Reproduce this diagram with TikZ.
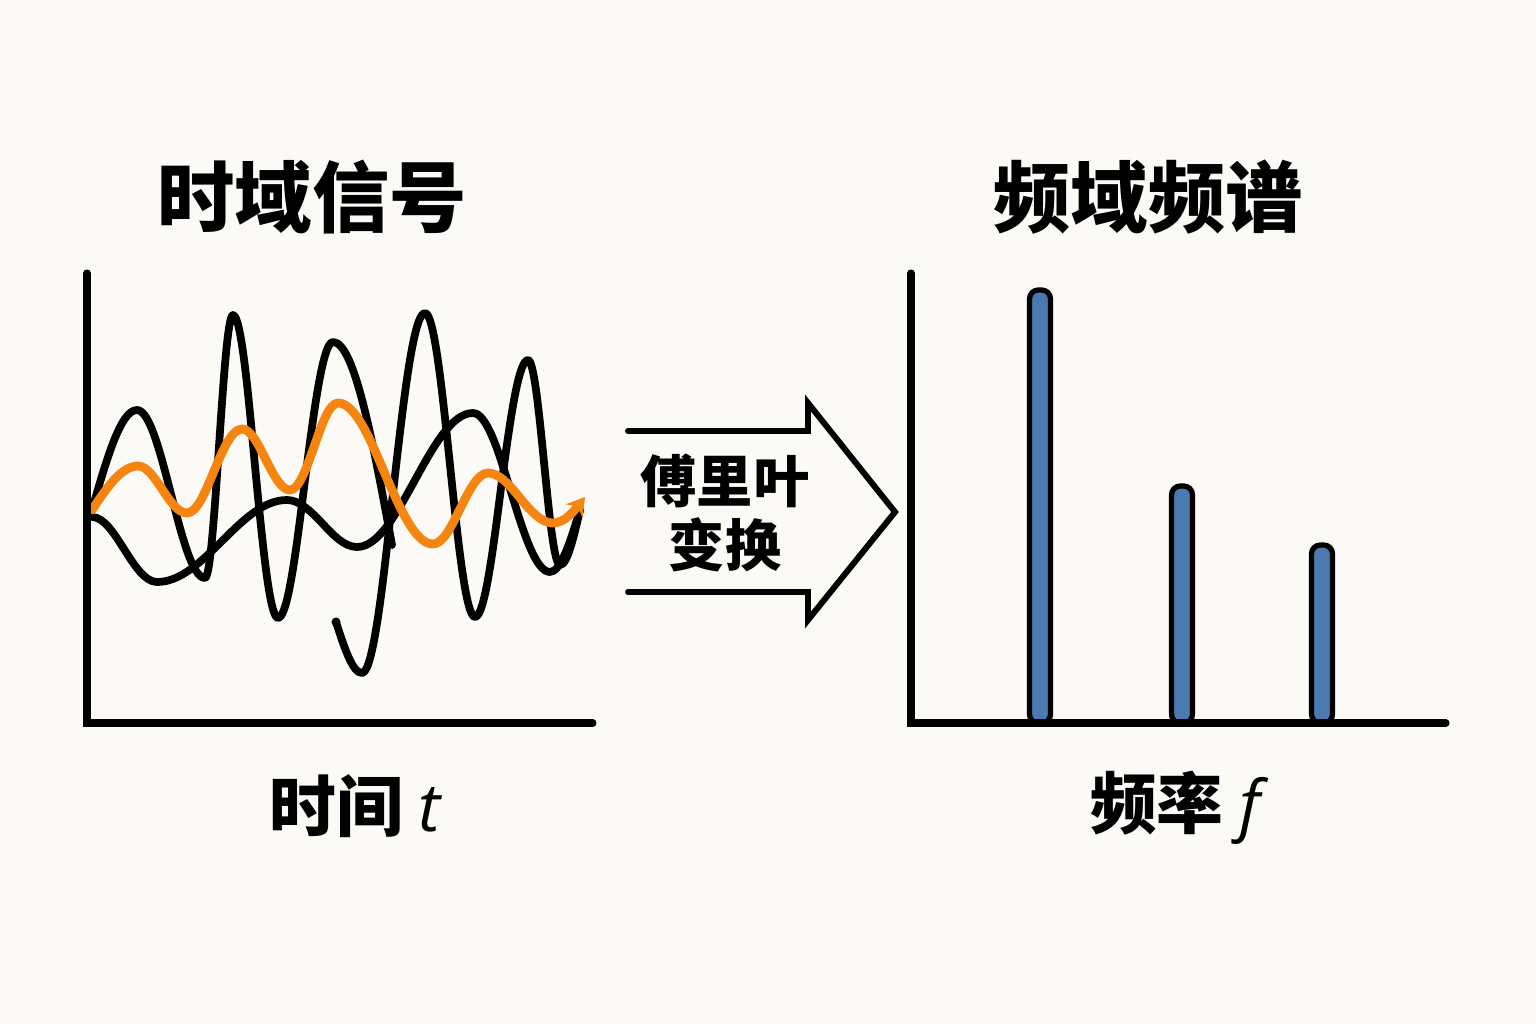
\documentclass[tikz,border=0pt]{standalone}
\usepackage{fontspec}
\setmainfont{Noto Sans CJK SC}
\newfontfamily\varfont{Open Sans}
\usetikzlibrary{positioning,arrows.meta,calc}
\definecolor{paper}{HTML}{FBFAF6}
\definecolor{orange}{HTML}{F5850F}
\definecolor{blue}{HTML}{4A7AB0}

\begin{document}
\begin{tikzpicture}[
    x=0.01cm, y=-0.01cm,
    axisline/.style={line width=2pt, line cap=round, line join=miter},
    wave/.style={line width=2.2pt, line cap=round, line join=round},
    tone/.style={wave, orange, line width=2.5pt},
    spike/.style={draw, line width=1.5pt, fill=blue, rounded corners=2.5pt},
    bigarrow/.style={line width=1.7pt, line cap=round, line join=miter},
    heading/.style={font=\fontsize{22}{25}\selectfont\bfseries},
    axislabel/.style={font=\fontsize{19}{22}\selectfont\bfseries},
    arrowtext/.style={align=center, font=\fontsize{16}{18}\selectfont\bfseries}
  ]
    \fill[paper] (0,0) rectangle (1536,1024);

    \node[heading] (timeTitle) at (312,197) {时域信号};
    \node[heading] (freqTitle) at (1148,197) {频域频谱};

    \draw[wave] (92,510) sin (137,410) cos (171,494) sin (205,578) cos (219,446) sin (233,315)
      cos (255,466) sin (278,618) cos (305,480) sin (333,342) cos (392,545);
    \draw[wave] (92,517) cos (124,549) sin (157,582) cos (222,541) sin (287,500)
      cos (322,523) sin (357,547) cos (415,480) sin (473,413) cos (511,492) sin (550,572) cos (580,510);
    \fill (336,622) circle (4.5);
    \draw[wave] (336,622) sin (362,673) cos (393,493) sin (425,313) cos (450,465) sin (475,617)
      cos (501,488) sin (528,360) cos (544,462) sin (560,565) cos (580,510);
    \draw[tone, -{Stealth[length=5pt, width=6pt]}] (92,510) sin (138,466) cos (162,489) sin (187,513)
      cos (214,471) sin (242,429) cos (266,460) sin (290,490) cos (314,447) sin (338,403)
      cos (385,474) sin (433,544) cos (460,509) sin (488,473) cos (520,498) sin (553,523) cos (585,497);

    \coordinate (tTop) at (87,273);
    \coordinate (tOrigin) at (87,723);
    \coordinate (tEnd) at (593,723);
    \draw[axisline] (tTop) -- (tOrigin) -- (tEnd);

    \foreach \x/\h in {1040/290, 1182/486, 1322/545}
      \draw[spike] (\x-10.5,723) rectangle (\x+10.5,\h);

    \coordinate (fTop) at (911,273);
    \coordinate (fOrigin) at (911,723);
    \coordinate (fEnd) at (1446,723);
    \draw[axisline] (fTop) -- (fOrigin) -- (fEnd);

    \draw[bigarrow] (628,431) -- (808,431) -- (808,403) -- (895,512) -- (808,620) -- (808,592) -- (628,592);
    \node[arrowtext] (ft) at (725,513) {傅里叶\\变换};

    \node[axislabel] (timeLabel) at (355,806) {时间 {\varfont\mdseries\itshape t}};
    \node[axislabel] (freqLabel) at (1175,808) {频率 {\varfont\mdseries\itshape f}};
  \end{tikzpicture}
\end{document}
